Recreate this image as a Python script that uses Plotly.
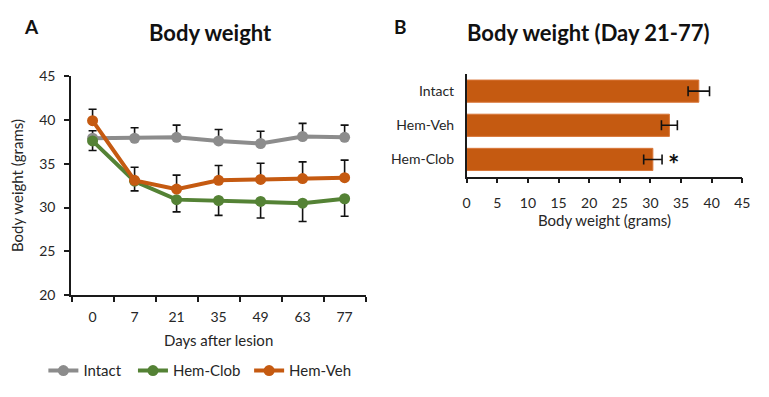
import plotly.graph_objects as go

# ---- Data: Panel A ----
days = ["0", "7", "21", "35", "49", "63", "77"]
intact_mean = [37.9, 37.9, 38.0, 37.6, 37.3, 38.1, 38.0]
intact_err = [0.85, 1.2, 1.4, 1.3, 1.4, 1.5, 1.4]
clob_mean = [37.6, 33.0, 30.9, 30.8, 30.7, 30.5, 31.0]
clob_err = [1.1, 1.1, 1.4, 1.7, 1.9, 2.1, 2.0]
veh_mean = [39.9, 33.1, 32.1, 33.1, 33.2, 33.3, 33.4]
veh_err = [1.3, 1.5, 1.6, 1.7, 1.85, 1.9, 2.0]

# ---- Data: Panel B ----
groups = ["Intact", "Hem-Veh", "Hem-Clob"]
avg_weight = [37.9, 33.1, 30.4]
avg_err = [1.75, 1.3, 1.5]
signif = ["", "", "*"]

GRAY = "#8c8c8c"
GREEN = "#548235"
ORANGE = "#C55A11"
TXT = "#262626"
FONT = "Lato"

fig = go.Figure()

def line_trace(name, y, err, color, plus, legend):
    e = dict(type="data", symmetric=False, color="#111111", thickness=1.6, width=4)
    if plus:
        e["array"] = err
        e["arrayminus"] = [0] * len(err)
    else:
        e["array"] = [0] * len(err)
        e["arrayminus"] = err
    return go.Scatter(x=days, y=y, name=name, mode="lines+markers",
                      line=dict(color=color, width=4),
                      marker=dict(color=color, size=11),
                      error_y=e, xaxis="x", yaxis="y", legend=legend)

fig.add_trace(line_trace("Intact", intact_mean, intact_err, GRAY, True, "legend"))
fig.add_trace(line_trace("Hem-Clob", clob_mean, clob_err, GREEN, False, "legend2"))
fig.add_trace(line_trace("Hem-Veh", veh_mean, veh_err, ORANGE, True, "legend3"))

fig.add_trace(go.Bar(x=avg_weight, y=groups, orientation="h",
                     marker=dict(color=ORANGE, line=dict(color="#d9773a", width=1)),
                     error_x=dict(type="data", array=avg_err, color="#111111",
                                  thickness=1.6, width=5),
                     showlegend=False, xaxis="x2", yaxis="y2"))

for g, v, e, s in zip(groups, avg_weight, avg_err, signif):
    if s:
        fig.add_annotation(x=v + e + 1.9, y=g, xref="x2", yref="y2", text="<b>" + s + "</b>",
                           showarrow=False, xanchor="center", yanchor="middle", yshift=-4,
                           font=dict(family=FONT, size=27, color="#111111"))

axis_common = dict(showline=True, linecolor="#1a1a1a", linewidth=1.5, showgrid=False,
                   zeroline=False, tickfont=dict(family=FONT, size=14, color=TXT),
                   ticks="outside", ticklen=5, tickcolor="#1a1a1a", tickwidth=1.5)

legend_common = dict(orientation="h", xanchor="left", y=1 - 378 / 397, yanchor="middle",
                     font=dict(family=FONT, size=15, color=TXT), itemwidth=30,
                     bgcolor="rgba(0,0,0,0)")

fig.update_layout(
    width=769, height=397,
    margin=dict(l=0, r=0, t=0, b=0),
    paper_bgcolor="white", plot_bgcolor="white",
    font=dict(family=FONT, color=TXT),
    bargap=0.35,
    xaxis=dict(domain=[68 / 769, 368 / 769], type="category", tickson="boundaries",
               ticklabelstandoff=8,
               title=dict(text="Days after lesion", font=dict(family=FONT, size=15, color=TXT), standoff=12),
               anchor="y", **axis_common),
    yaxis=dict(domain=[1 - 299 / 397, 1 - 70 / 397], range=[20, 45], dtick=5,
               ticklabelstandoff=6,
               title=dict(text="Body weight (grams)", font=dict(family=FONT, size=15, color=TXT), standoff=12),
               anchor="x", **axis_common),
    xaxis2=dict(domain=[470 / 769, 750 / 769], range=[0, 45], dtick=5, anchor="y2",
                ticklabelstandoff=8,
                title=dict(text="Body weight (grams)", font=dict(family=FONT, size=15, color=TXT), standoff=4),
                **axis_common),
    yaxis2=dict(domain=[1 - 175 / 397, 1 - 68 / 397], anchor="x2", autorange="reversed",
                showline=True, linecolor="#1a1a1a", linewidth=1.5, showgrid=False,
                ticks="", ticklabelstandoff=8, tickfont=dict(family=FONT, size=14, color=TXT)),
    legend=dict(x=40 / 769, **legend_common),
    legend2=dict(x=131 / 769, **legend_common),
    legend3=dict(x=249 / 769, **legend_common),
)

fig.add_annotation(x=28 / 769, y=1 - 18 / 397, xref="paper", yref="paper", text="<b>A</b>",
                   showarrow=False, xanchor="center", yanchor="middle",
                   font=dict(family=FONT, size=19, color="#111111"))
fig.add_annotation(x=210 / 769, y=1 - 25 / 397, xref="paper", yref="paper", text="<b>Body weight</b>",
                   showarrow=False, xanchor="center", yanchor="middle",
                   font=dict(family=FONT, size=22, color="#111111"))
fig.add_annotation(x=403 / 769, y=1 - 18 / 397, xref="paper", yref="paper", text="<b>B</b>",
                   showarrow=False, xanchor="center", yanchor="middle",
                   font=dict(family=FONT, size=19, color="#111111"))
fig.add_annotation(x=594 / 769, y=1 - 25 / 397, xref="paper", yref="paper", text="<b>Body weight (Day 21-77)</b>",
                   showarrow=False, xanchor="center", yanchor="middle",
                   font=dict(family=FONT, size=22, color="#111111"))

fig.write_html("out.html")
